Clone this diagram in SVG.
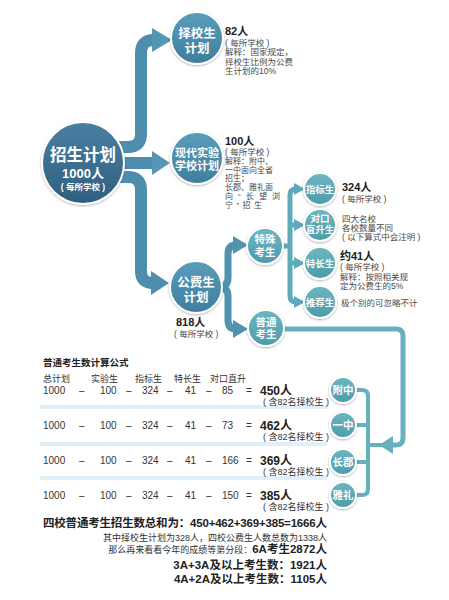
<svg xmlns="http://www.w3.org/2000/svg" width="449" height="600" viewBox="0 0 449 600">
<defs>
<linearGradient id="gMain" x1="0" y1="0" x2="0" y2="1"><stop offset="0" stop-color="#4a7fa2"/><stop offset="1" stop-color="#2f5f80"/></linearGradient>
<linearGradient id="gMid" x1="0" y1="0" x2="0" y2="1"><stop offset="0" stop-color="#5a9dbb"/><stop offset="1" stop-color="#3f7d9d"/></linearGradient>
<linearGradient id="gTeal" x1="0" y1="0" x2="0" y2="1"><stop offset="0" stop-color="#6cb6c3"/><stop offset="1" stop-color="#4d9caa"/></linearGradient>
<filter id="sh" x="-20%" y="-20%" width="140%" height="140%"><feDropShadow dx="0" dy="1" stdDeviation="1.2" flood-color="#000" flood-opacity="0.3"/></filter>
</defs>
<style>
text{font-family:"Liberation Sans","Noto Sans CJK SC",sans-serif;}
.nt{fill:#fff;font-weight:bold;text-anchor:middle;}
.c{stroke:#fff;stroke-width:2;filter:url(#sh);}
.t{font-size:8.5px;fill:#4a4a4a;}
.t2{font-size:8px;fill:#4a4a4a;}
.b{font-size:11px;font-weight:bold;fill:#222;}
.f{font-size:10px;fill:#333;}
.h{font-size:9px;fill:#333;}
.r{font-size:12px;font-weight:bold;fill:#222;}
.s{font-size:9px;fill:#333;text-anchor:end;}
.trunk{fill:none;stroke:#4f8daf;stroke-width:12;}
.fork1{fill:none;stroke:#4f93ae;stroke-width:7;}
.fork2{fill:none;stroke:#5eaab8;stroke-width:5;}
.line3{fill:none;stroke:#67b0be;stroke-width:5;}
.br{fill:none;stroke:#67b0be;stroke-width:4;}
</style>
<rect width="449" height="600" fill="#fff"/>
<g id="connectors">
<path class="trunk" d="M118,147 H128 Q141,147 141,134 V53 Q141,40 154,40"/>
<polygon points="152,28 172,40 152,52" fill="#5496b4"/>
<path class="trunk" d="M118,163 H154"/>
<polygon points="152,151 170,163 152,175" fill="#5496b4"/>
<path class="trunk" d="M118,177 H128 Q141,177 141,190 V271 Q141,283 153,283"/>
<polygon points="151,271 169,283 151,295" fill="#4f8daf"/>
<path class="fork1" d="M218,287 Q228,287 228,278 V254 Q228,245 236,245"/>
<polygon points="233,236 248,245 233,254" fill="#4f93ae"/>
<path class="fork1" d="M218,287 Q228,287 228,296 V320 Q228,329 236,329"/>
<polygon points="233,320 248,329 233,338" fill="#4f93ae"/>
<path class="fork2" d="M281,246 H290 M296,189 Q290,189 290,195 V296 Q290,302 296,302 M290,225 H296 M290,263 H296"/>
<polygon points="294,183 305,189 294,195" fill="#5eaab8"/>
<polygon points="294,219 305,225 294,231" fill="#5eaab8"/>
<polygon points="294,257 305,263 294,269" fill="#5eaab8"/>
<polygon points="294,296 305,302 294,308" fill="#5eaab8"/>
<path class="line3" d="M283,329 H396 Q403,329 403,336 V438 Q403,445 396,445 H390"/>
<polygon points="393,436 379,445 393,454" fill="#67b0be"/>
<path class="br" d="M354,390 H362 Q368,390 368,396 V489 Q368,495 362,495 H354 M354,425 H368 M354,462 H368 M368,445 H382"/>
</g>
<g id="n-main"><circle class="c" cx="83" cy="163" r="41" fill="url(#gMain)"/>
<text class="nt" x="83" y="161" font-size="16.5">招生计划</text>
<text class="nt" x="83" y="178" font-size="13">1000人</text>
<text class="nt" x="83" y="190" font-size="8.5" font-weight="normal">( 每所学校 )</text></g>
<g id="n-zexiao"><circle class="c" cx="197" cy="38" r="26" fill="url(#gMid)"/>
<text class="nt" x="197" y="38" font-size="12.5">择校生</text>
<text class="nt" x="197" y="53" font-size="12.5">计划</text></g>
<g id="n-shiyan"><circle class="c" cx="197" cy="158" r="26" fill="url(#gMid)"/>
<text class="nt" x="197" y="157" font-size="11">现代实验</text>
<text class="nt" x="197" y="170" font-size="11">学校计划</text></g>
<g id="n-gongfei"><circle class="c" cx="196" cy="287" r="26" fill="url(#gMid)"/>
<text class="nt" x="196" y="287" font-size="12.5">公费生</text>
<text class="nt" x="196" y="302" font-size="12.5">计划</text></g>
<g id="n-teshu"><circle class="c" cx="265" cy="246" r="18" fill="url(#gTeal)"/>
<text class="nt" x="265" y="243" font-size="10.5">特殊</text>
<text class="nt" x="265" y="256" font-size="10.5">考生</text></g>
<g id="n-putong"><circle class="c" cx="266" cy="328" r="18" fill="url(#gTeal)"/>
<text class="nt" x="266" y="326" font-size="10.5">普通</text>
<text class="nt" x="266" y="338" font-size="10.5">考生</text></g>
<g id="n-zhibiao"><circle class="c" cx="320" cy="189" r="16" fill="url(#gTeal)"/>
<text class="nt" x="320" y="193" font-size="9.5">指标生</text></g>
<g id="n-duikou"><circle class="c" cx="320" cy="225" r="16" fill="url(#gTeal)"/>
<text class="nt" x="320" y="222" font-size="9.5">对口</text>
<text class="nt" x="320" y="233" font-size="9.5">直升生</text></g>
<g id="n-techang"><circle class="c" cx="320" cy="263" r="16" fill="url(#gTeal)"/>
<text class="nt" x="320" y="267" font-size="9.5">特长生</text></g>
<g id="n-tuijian"><circle class="c" cx="320" cy="302" r="16" fill="url(#gTeal)"/>
<text class="nt" x="320" y="306" font-size="9.5">推荐生</text></g>
<g id="n-fuzhong"><circle class="c" cx="343" cy="390" r="13" fill="url(#gTeal)"/><text class="nt" x="343" y="394" font-size="10.5">附中</text></g>
<g id="n-yizhong"><circle class="c" cx="343" cy="425" r="13" fill="url(#gTeal)"/><text class="nt" x="343" y="429" font-size="10.5">一中</text></g>
<g id="n-changjun"><circle class="c" cx="343" cy="462" r="13" fill="url(#gTeal)"/><text class="nt" x="343" y="466" font-size="10.5">长郡</text></g>
<g id="n-yali"><circle class="c" cx="343" cy="495" r="13" fill="url(#gTeal)"/><text class="nt" x="343" y="499" font-size="10.5">雅礼</text></g>
<g id="labels">
<text class="b" x="225" y="35">82人</text>
<text class="t" x="225" y="46">( 每所学校 )</text>
<text class="t" x="225" y="55">解释：国家规定，</text>
<text class="t" x="225" y="65">择校生比例为公费</text>
<text class="t" x="225" y="74">生计划的10%</text>
<text class="b" x="225" y="145">100人</text>
<text class="t" x="225" y="155">( 每所学校 )</text>
<text class="t2" x="225" y="164">解释：附中、</text>
<text class="t2" x="225" y="172.5">一中面向全省</text>
<text class="t2" x="225" y="181">招生；</text>
<text class="t2" x="225" y="190">长郡、雅礼面</text>
<text class="t2" x="225" y="199" textLength="55" lengthAdjust="spacing">向“长望浏</text>
<text class="t2" x="225" y="208" textLength="37" lengthAdjust="spacing">宁”招生</text>
<text class="b" x="342" y="191">324人</text>
<text class="t" x="342" y="202">( 每所学校 )</text>
<text class="t" x="342" y="222">四大名校</text>
<text class="t" x="342" y="231">各校数量不同</text>
<text class="t" x="342" y="240">( 以下算式中会注明 )</text>
<text class="b" x="340" y="260">约41人</text>
<text class="t" x="340" y="270">( 每所学校 )</text>
<text class="t" x="340" y="280">解释：按照相关规</text>
<text class="t" x="340" y="289">定为公费生的5%</text>
<text class="t" x="341" y="306">极个别的可忽略不计</text>
<text class="b" x="176" y="326">818人</text>
<text class="t" x="174" y="337">( 每所学校 )</text>
</g>
<g id="formula">
<rect x="40" y="405" width="287" height="4" fill="#dff0f8"/>
<rect x="40" y="442" width="287" height="4" fill="#dff0f8"/>
<rect x="40" y="476" width="287" height="4" fill="#dff0f8"/>
<text x="43" y="366" font-size="9.5" font-weight="bold" fill="#222">普通考生数计算公式</text>
<text class="h" x="43" y="382">总计划</text>
<text class="h" x="91" y="382">实验生</text>
<text class="h" x="135" y="382">指标生</text>
<text class="h" x="174" y="382">特长生</text>
<text class="h" x="210" y="382">对口直升</text>
<g class="f">
<text x="43" y="394">1000</text><text x="79" y="394">–</text><text x="100" y="394">100</text><text x="126" y="394">–</text><text x="142" y="394">324</text><text x="167" y="394">–</text><text x="185" y="394">41</text><text x="206" y="394">–</text><text x="222" y="394">85</text><text x="246" y="394">=</text>
<text x="43" y="429">1000</text><text x="79" y="429">–</text><text x="100" y="429">100</text><text x="126" y="429">–</text><text x="142" y="429">324</text><text x="167" y="429">–</text><text x="185" y="429">41</text><text x="206" y="429">–</text><text x="222" y="429">73</text><text x="246" y="429">=</text>
<text x="43" y="464">1000</text><text x="79" y="464">–</text><text x="100" y="464">100</text><text x="126" y="464">–</text><text x="142" y="464">324</text><text x="167" y="464">–</text><text x="185" y="464">41</text><text x="206" y="464">–</text><text x="222" y="464">166</text><text x="246" y="464">=</text>
<text x="43" y="499">1000</text><text x="79" y="499">–</text><text x="100" y="499">100</text><text x="126" y="499">–</text><text x="142" y="499">324</text><text x="167" y="499">–</text><text x="185" y="499">41</text><text x="206" y="499">–</text><text x="222" y="499">150</text><text x="246" y="499">=</text>
</g>
<text class="r" x="260" y="395">450人</text>
<text class="s" x="329" y="405">( 含82名择校生 )</text>
<text class="r" x="260" y="430">462人</text>
<text class="s" x="329" y="440">( 含82名择校生 )</text>
<text class="r" x="260" y="465">369人</text>
<text class="s" x="329" y="475">( 含82名择校生 )</text>
<text class="r" x="260" y="500">385人</text>
<text class="s" x="329" y="510">( 含82名择校生 )</text>
</g>
<g id="summary">
<text x="43" y="527" font-size="11.5" font-weight="bold" fill="#222" textLength="284" lengthAdjust="spacing">四校普通考生招生数总和为：450+462+369+385=1666人</text>
<text class="s" x="327" y="541">其中择校生计划为328人，四校公费生人数总数为1338人</text>
<text class="s" x="327" y="553">那么再来看看今年的成绩等第分段：<tspan font-size="11.5" font-weight="bold" fill="#222">6A考生2872人</tspan></text>
<text x="327" y="569" font-size="11.5" font-weight="bold" fill="#222" text-anchor="end">3A+3A及以上考生数：1921人</text>
<text x="327" y="583" font-size="11.5" font-weight="bold" fill="#222" text-anchor="end">4A+2A及以上考生数：1105人</text>
</g>
</svg>
